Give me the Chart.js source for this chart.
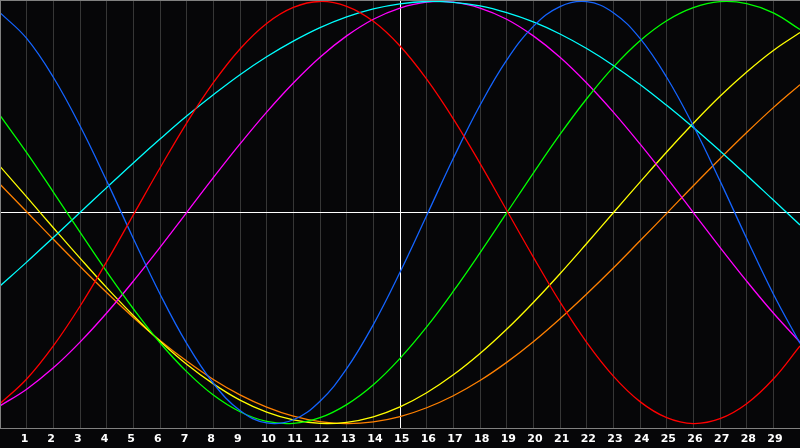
<!DOCTYPE html>
<html>
<head>
<meta charset="utf-8">
<script src="https://cdn.jsdelivr.net/npm/chart.js@4/dist/chart.umd.min.js"></script>
<style>
html,body{margin:0;padding:0;background:#060608;}
#wrap{width:800px;height:448px;position:relative;}
</style>
</head>
<body>
<div id="wrap"><canvas id="c" width="800" height="448"></canvas></div>
<script>
const days = [0,1,2,3,4,5,6,7,8,9,10,11,12,13,14,15,16,17,18,19,20,21,22,23,24,25,26,27,28,29,30];
const tickLabels = ["","1","2","3","4","5","6","7","8","9","10","11","12","13","14","15","16","17","18","19","20","21","22","23","24","25","26","27","28","29",""];
const red = [-90.6,-78.9,-63.2,-44.4,-23.3,-1.1,21.1,42.4,61.5,77.5,89.6,97.2,100,97.7,90.6,78.9,63.2,44.4,23.3,1.1,-21.1,-42.4,-61.5,-77.5,-89.6,-97.2,-100,-97.7,-90.6,-78.9,-63.2];
const blue = [94.7,82.5,64.1,41.1,15.0,-12.3,-38.6,-62.0,-80.9,-93.8,-99.7,-98.2,-89.4,-74.0,-53.1,-28.3,-1.4,25.7,50.8,72.2,88.2,97.6,99.9,94.7,82.5,64.1,41.1,15.0,-12.3,-38.6,-62.0];
const green = [46.0,28.4,9.7,-9.3,-28.0,-45.6,-61.7,-75.4,-86.5,-94.4,-99.0,-99.9,-97.2,-91.0,-81.6,-69.1,-54.2,-37.3,-19.1,-0.2,18.7,37.0,53.9,68.9,81.4,90.9,97.1,99.9,99.0,94.6,86.7];
const cyan = [-34.8,-23.5,-11.8,0,11.8,23.5,34.8,45.7,55.8,65.3,73.8,81.2,87.6,92.7,96.5,98.9,100,99.6,97.9,94.7,90.3,84.6,77.7,69.7,60.7,50.8,40.3,29.2,17.7,5.9,-5.9];
const magenta = [-91.6,-83.7,-73.6,-61.4,-47.6,-32.5,-16.5,0,16.5,32.5,47.6,61.4,73.6,83.7,91.6,96.9,99.7,99.7,96.9,91.6,83.7,73.6,61.4,47.6,32.5,16.5,0,-16.5,-32.5,-47.6,-61.4];
const yellow = [21.9,7.4,-7.2,-21.6,-35.6,-48.8,-61.0,-71.9,-81.2,-88.9,-94.6,-98.3,-99.9,-99.4,-96.8,-92.1,-85.4,-76.9,-66.8,-55.3,-42.6,-29.0,-14.7,-0.1,14.4,28.7,42.3,55.1,66.6,76.8,85.3];
const orange = [13.4,0.4,-12.7,-25.5,-37.9,-49.7,-60.6,-70.4,-79.1,-86.4,-92.2,-96.5,-99.1,-100,-99.2,-96.7,-92.5,-86.8,-79.6,-71.0,-61.2,-50.3,-38.6,-26.3,-13.4,-0.4,12.7,25.5,37.9,49.7,60.6];

const series = [
  {name:'red', values:red, color:'#ff0000'},
  {name:'blue', values:blue, color:'#1464ff'},
  {name:'green', values:green, color:'#00ff00'},
  {name:'cyan', values:cyan, color:'#00ffff'},
  {name:'magenta', values:magenta, color:'#ff00ff'},
  {name:'yellow', values:yellow, color:'#ffff00'},
  {name:'orange', values:orange, color:'#ff8000'}
];

const bgPlugin = {
  id:'bg',
  beforeDraw(chart){
    const ctx = chart.ctx;
    ctx.save();
    ctx.fillStyle = '#060608';
    ctx.fillRect(0,0,chart.width,chart.height);
    ctx.restore();
  },
  afterDraw(chart){
    const ctx = chart.ctx, a = chart.chartArea;
    ctx.save();
    ctx.strokeStyle = '#808080';
    ctx.lineWidth = 1;
    ctx.beginPath();
    ctx.moveTo(0, a.top + 0.5); ctx.lineTo(chart.width, a.top + 0.5);
    ctx.moveTo(0.5, a.top); ctx.lineTo(0.5, a.bottom);
    ctx.stroke();
    ctx.restore();
  }
};

new Chart(document.getElementById('c'), {
  type:'line',
  data:{
    datasets: series.map(s => ({
      label:s.name,
      data: days.map((d,i) => ({x:d, y:s.values[i]})),
      borderColor:s.color,
      borderWidth:1.3,
      pointRadius:0,
      tension:0.4,
      fill:false
    }))
  },
  options:{
    responsive:false,
    animation:false,
    events:[],
    layout:{padding:0},
    plugins:{legend:{display:false}, tooltip:{enabled:false}},
    scales:{
      x:{
        type:'linear',
        min:0, max:30,
        afterFit(scale){ scale.height = 20; scale.paddingLeft = 0; scale.paddingRight = 0; },
        afterBuildTicks(scale){ scale.ticks = days.map(d => ({value:d})); },
        grid:{
          drawTicks:false,
          color(ctx){ return ctx.tick && ctx.tick.value === 15 ? '#ffffff' : '#363636'; },
          lineWidth:1
        },
        border:{display:true, color:'#808080'},
        ticks:{
          autoSkip:false,
          maxRotation:0,
          align:'start',
          labelOffset:-6,
          padding:5,
          color:'#ffffff',
          font:{family:'DejaVu Sans', size:11, weight:'bold'},
          callback(v){ return tickLabels[v] || ''; }
        }
      },
      y:{
        type:'linear',
        min:-102.1, max:100.7,
        afterFit(scale){ scale.width = 0; scale.paddingTop = 0; scale.paddingBottom = 0; },
        afterBuildTicks(scale){ scale.ticks = [{value:0}]; },
        grid:{drawTicks:false, color:'#ffffff', lineWidth:1},
        border:{display:false},
        ticks:{display:false}
      }
    }
  },
  plugins:[bgPlugin]
});
</script>
</body>
</html>
